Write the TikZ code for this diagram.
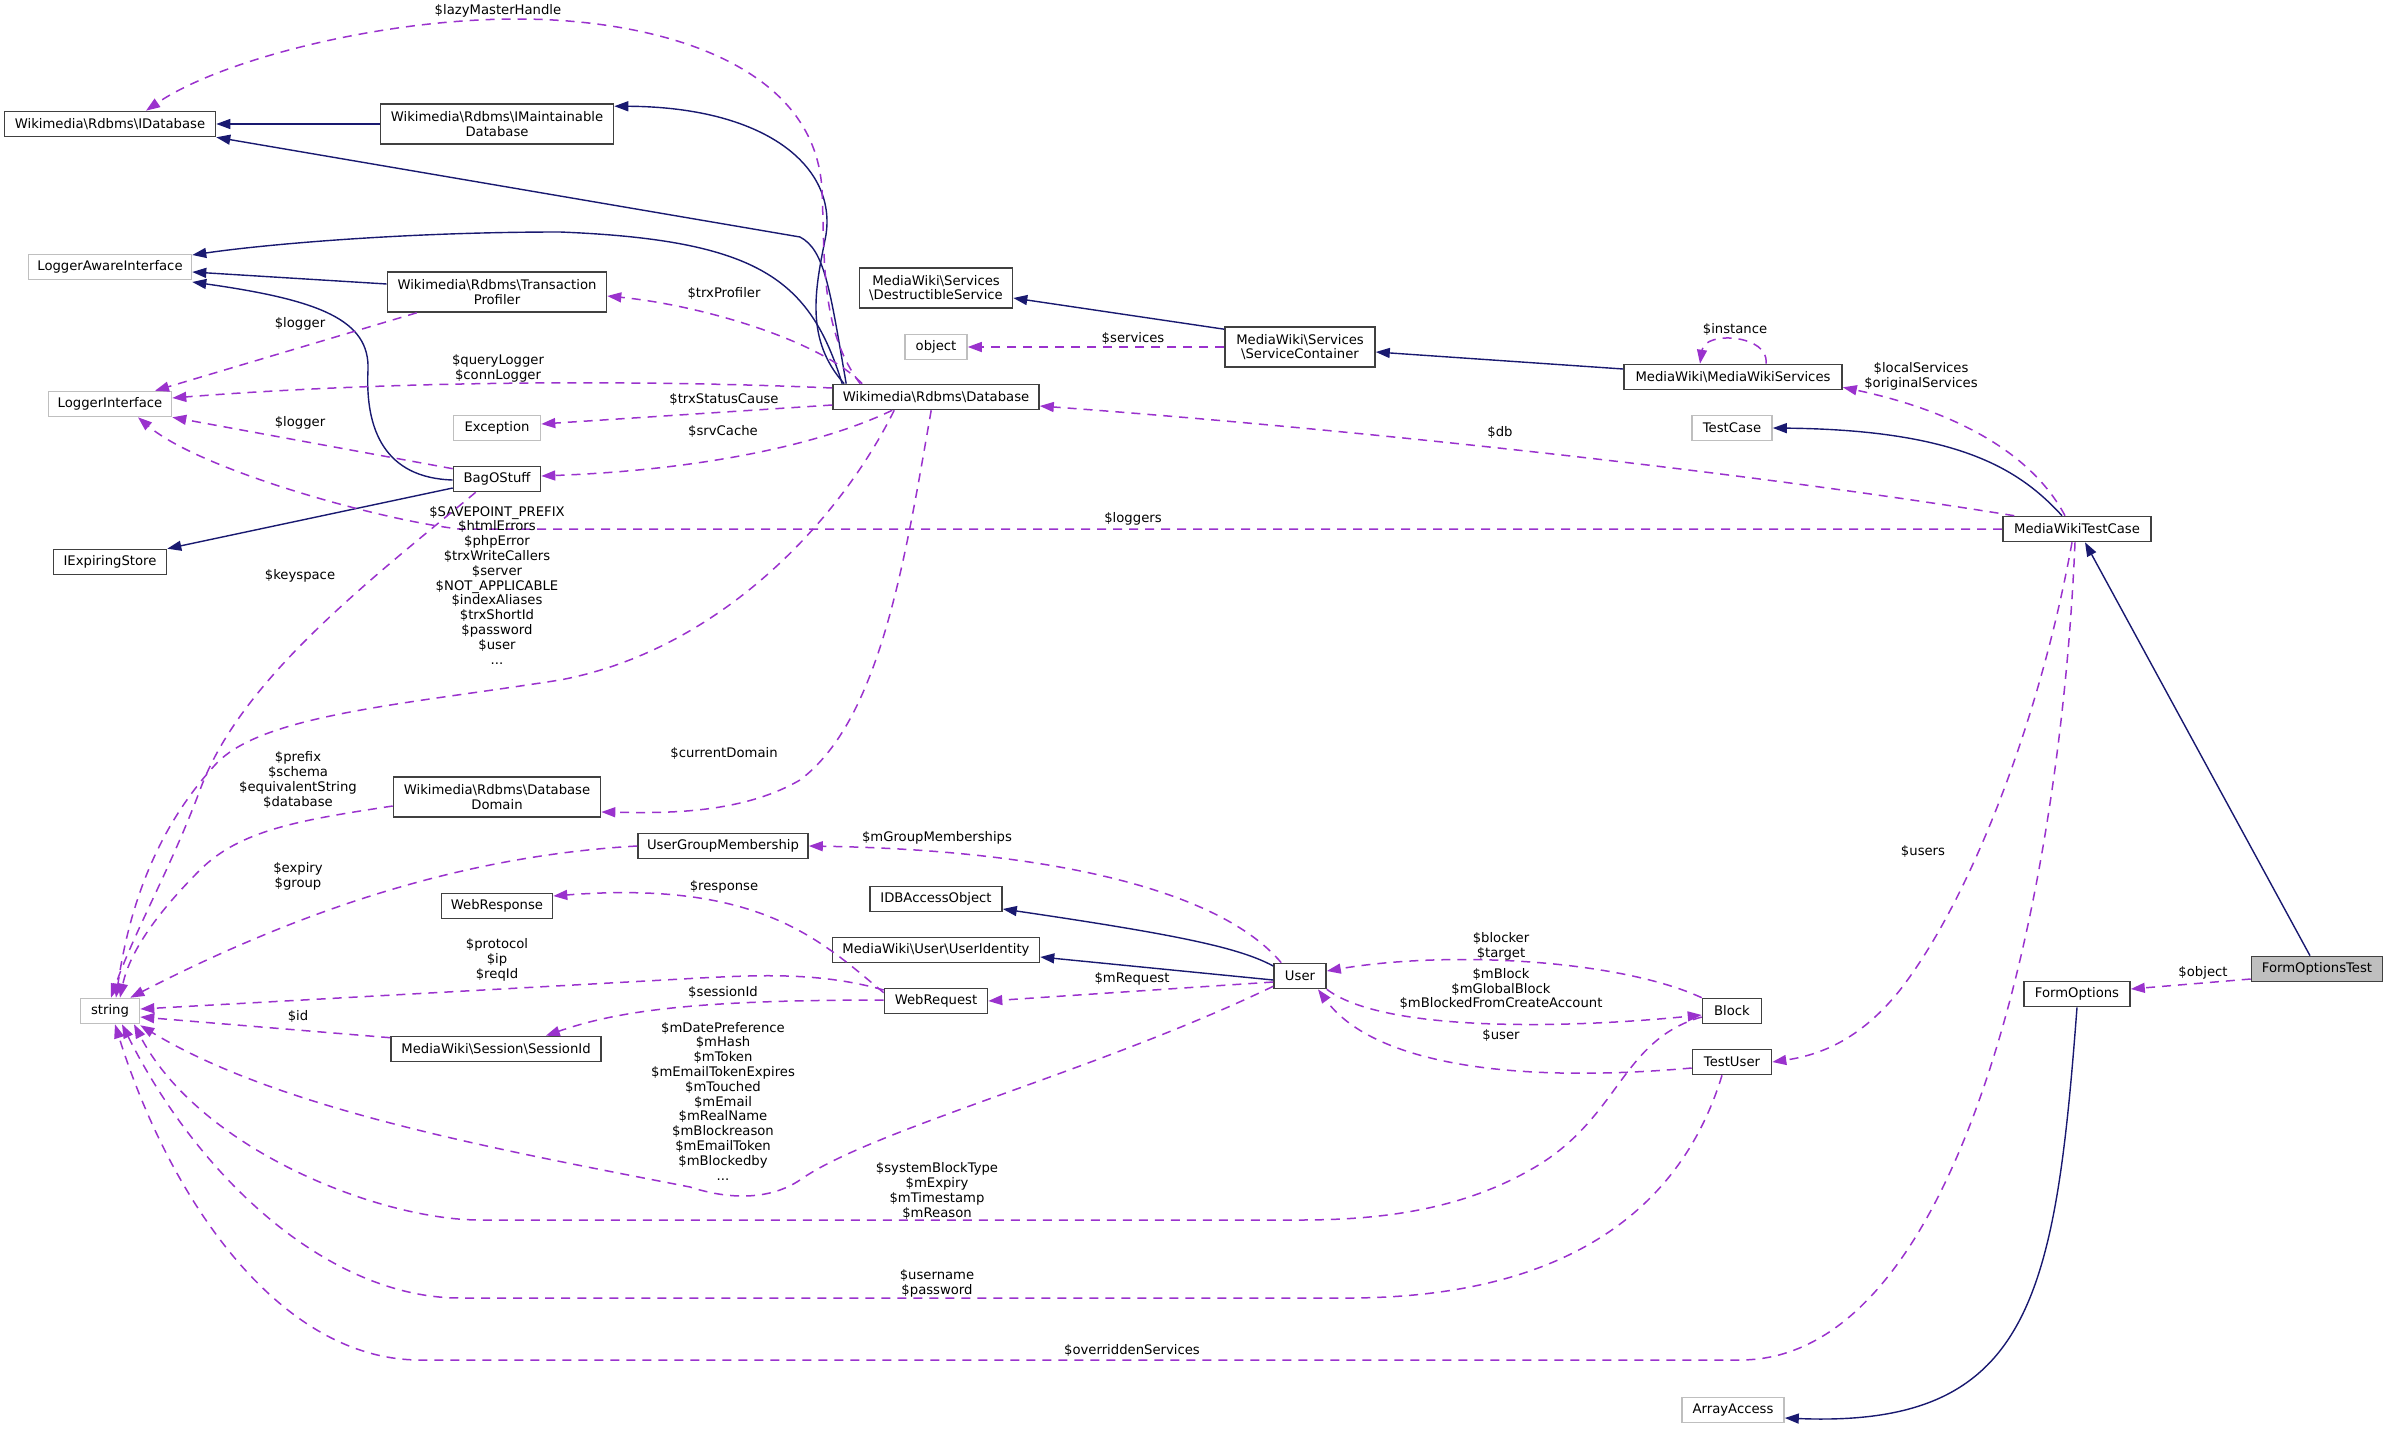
\documentclass[tikz,border=0pt]{standalone}
\usepackage{fontspec}
\setmainfont{DejaVu Sans}
\usetikzlibrary{arrows.meta,calc}
\definecolor{navy}{HTML}{191970}
\definecolor{orchid}{HTML}{9A32CD}
\definecolor{ugray}{HTML}{BFBFBF}
\definecolor{bord}{HTML}{404040}
\newcommand\fs{\fontsize{6.6}{7.4}\selectfont}
\newcommand\bsl{\textbackslash}
\tikzset{
  box/.style={draw=bord, line width=0.8pt, fill=white, inner sep=1.5pt, minimum height=12.5pt, align=center, font=\fs},
  ubox/.style={box, draw=ugray},
  lbl/.style={font=\fs, align=center, inner sep=0pt},
  inh/.style={draw=navy, line width=0.7pt, -{Triangle[length=7pt,width=5pt]}},
  use/.style={draw=orchid, line width=0.75pt, dash pattern=on 4.5pt off 3.5pt, -{Triangle[length=7pt,width=5pt]}}
}
\begin{document}
\begin{tikzpicture}[x=0.5pt,y=-0.5pt]
\useasboundingbox (0,0) rectangle (2388,1429);
% nodes
\node[box, minimum width=105.5pt] (idb) at (110,124) {Wikimedia\bsl Rdbms\bsl IDatabase};
\node[box, minimum width=116.5pt, minimum height=20pt] (imdb) at (497,124) {Wikimedia\bsl Rdbms\bsl IMaintainable\\Database};
\node[ubox, minimum width=81.5pt] (lai) at (110,267) {LoggerAwareInterface};
\node[box, minimum width=109.5pt, minimum height=20pt] (tp) at (497,292) {Wikimedia\bsl Rdbms\bsl Transaction\\Profiler};
\node[ubox, minimum width=61.5pt] (li) at (110,404) {LoggerInterface};
\node[ubox, minimum width=43.5pt] (exc) at (497,428) {Exception};
\node[box, minimum width=43.5pt] (bag) at (497,479) {BagOStuff};
\node[box, minimum width=56.5pt] (ies) at (110,562) {IExpiringStore};
\node[box, minimum width=103pt] (db) at (936,397) {Wikimedia\bsl Rdbms\bsl Database};
\node[box, minimum width=76.5pt, minimum height=20pt] (ds) at (936,288) {MediaWiki\bsl Services\\\bsl DestructibleService};
\node[ubox, minimum width=31pt] (obj) at (936,347) {object};
\node[box, minimum width=75pt, minimum height=20pt] (sc) at (1300,347) {MediaWiki\bsl Services\\\bsl ServiceContainer};
\node[box, minimum width=109pt] (mws) at (1733,377) {MediaWiki\bsl MediaWikiServices};
\node[ubox, minimum width=40pt] (tc) at (1732,428) {TestCase};
\node[box, minimum width=74pt] (mwtc) at (2077,529) {MediaWikiTestCase};
\node[box, minimum width=103.5pt, minimum height=20pt] (dd) at (497,797) {Wikimedia\bsl Rdbms\bsl Database\\Domain};
\node[box, minimum width=85pt] (ugm) at (723,846) {UserGroupMembership};
\node[box, minimum width=55.5pt] (wresp) at (497,906) {WebResponse};
\node[box, minimum width=66pt] (idbao) at (936,899) {IDBAccessObject};
\node[box, minimum width=103.5pt] (uid) at (936,950) {MediaWiki\bsl User\bsl UserIdentity};
\node[box, minimum width=26pt] (user) at (1300,976) {User};
\node[box, minimum width=51.5pt] (wreq) at (936,1001) {WebRequest};
\node[ubox, minimum width=29.5pt] (str) at (110,1011) {string};
\node[box, minimum width=105pt] (sid) at (496,1049) {MediaWiki\bsl Session\bsl SessionId};
\node[box, minimum width=29.5pt] (block) at (1732,1011) {Block};
\node[box, minimum width=39.5pt] (tu) at (1732,1062) {TestUser};
\node[box, minimum width=53pt] (fo) at (2077,994) {FormOptions};
\node[box, fill=ugray, minimum width=65.5pt] (fot) at (2317,969) {FormOptionsTest};
\node[ubox, minimum width=51pt] (aa) at (1733,1410) {ArrayAccess};
% inheritance
\draw[inh] (imdb.west) -- (idb.east);
\draw[inh] ($(db.north west)+(14,0)$) .. controls (830,290) and (825,250) .. (800,237) -- (idb.south east);
\draw[inh] ($(db.north west)+(12,0)$) .. controls (805,340) and (815,290) .. (825,240) .. controls (840,170) and (770,107) .. ($(imdb.north east)+(0,3)$);
\draw[inh] ($(db.north west)+(10,0)$) .. controls (810,280) and (760,240) .. (560,232) .. controls (400,232) and (260,245) .. ($(lai.east)+(0,-12)$);
\draw[inh] ($(tp.west)+(0,-8)$) -- ($(lai.east)+(0,5)$);
\draw[inh] ($(bag.west)+(0,1)$) .. controls (385,478) and (365,430) .. (368,370) .. controls (370,320) and (320,300) .. ($(lai.east)+(0,15)$);
\draw[inh] ($(bag.west)+(0,9)$) -- (ies.north east);
\draw[inh] ($(sc.north west)+(0,3)$) -- ($(ds.east)+(0,10)$);
\draw[inh] ($(mws.west)+(0,-8)$) -- ($(sc.east)+(0,5)$);
\draw[inh] ($(mwtc.north)+(-15,0)$) .. controls (2020,470) and (1960,430) .. (tc.east);
\draw[inh] ($(fot.north)+(-7,0)$) -- ($(mwtc.south)+(8,0)$);
\draw[inh] ($(user.west)+(0,4)$) -- ($(uid.east)+(0,7)$);
\draw[inh] ($(user.west)+(0,-10)$) .. controls (1240,948) and (1180,935) .. ($(idbao.east)+(0,10)$);
\draw[inh] (fo.south) .. controls (2055,1300) and (2030,1428) .. ($(aa.east)+(0,8)$);
% usage
\draw[use] ($(db.north west)+(28,0)$) .. controls (820,330) and (825,260) .. (822,190) .. controls (815,60) and (650,19) .. (517,19) .. controls (380,19) and (220,60) .. ($(idb.north)+(36,0)$);
\node[lbl] (l1) at (498,11) {\$lazyMasterHandle};
\draw[use] ($(db.north west)+(30,0)$) .. controls (820,340) and (700,305) .. ($(tp.east)+(0,4)$);
\node[lbl] (l2) at (724,293) {\$trxProfiler};
\draw[use] ($(db.west)+(0,-9)$) .. controls (650,380) and (400,380) .. ($(li.east)+(0,-6)$);
\node[lbl] (l3) at (498,368) {\$queryLogger\\\$connLogger};
\draw[use] ($(tp.south west)+(30,0)$) -- ($(li.north)+(45,0)$);
\node[lbl] (l4) at (300,324) {\$logger};
\draw[use] ($(db.west)+(0,8)$) -- ($(exc.east)+(0,-4)$);
\node[lbl] (l5) at (724,399) {\$trxStatusCause};
\draw[use] ($(db.south west)+(60,0)$) .. controls (820,445) and (700,470) .. ($(bag.east)+(0,-3)$);
\node[lbl] (l6) at (723,431) {\$srvCache};
\draw[use] ($(bag.north west)+(0,3)$) -- (li.south east);
\node[lbl] (l7) at (300,423) {\$logger};
\draw[use] (mwtc.west) -- (459,529) .. controls (380,520) and (200,470) .. ($(li.south)+(28,0)$);
\node[lbl] (l8) at (1133,519) {\$loggers};
\draw[use] (sc.west) -- (obj.east);
\node[lbl] (l9) at (1133,338) {\$services};
\draw[use] ($(mws.north)+(33,0)$) .. controls (1770,335) and (1705,330) .. ($(mws.north)+(-33,0)$);
\node[lbl] (l10) at (1735,329) {\$instance};
\draw[use] ($(mwtc.north)+(-12,0)$) .. controls (2030,450) and (1950,410) .. ($(mws.south east)+(0,-3)$);
\node[lbl] (l11) at (1921,376) {\$localServices\\\$originalServices};
\draw[use] ($(mwtc.north west)+(12,0)$) .. controls (1700,465) and (1300,425) .. ($(db.east)+(0,9)$);
\node[lbl] (l12) at (1500,432) {\$db};
\draw[use] ($(db.south west)+(62,0)$) .. controls (840,520) and (720,650) .. (560,680) .. controls (400,705) and (260,715) .. (215,765) .. controls (160,825) and (130,900) .. ($(str.north)+(6,0)$);
\node[lbl] (l13) at (497,585) {\$SAVEPOINT\_PREFIX\\\$htmlErrors\\\$phpError\\\$trxWriteCallers\\\$server\\\$NOT\_APPLICABLE\\\$indexAliases\\\$trxShortId\\\$password\\\$user\\...};
\draw[use] ($(bag.south west)+(23,0)$) .. controls (370,580) and (240,680) .. (200,790) .. controls (170,870) and (135,930) .. ($(str.north)+(1,0)$);
\node[lbl] (l14) at (300,576) {\$keyspace};
\draw[use] ($(db.south west)+(99,0)$) .. controls (905,560) and (880,720) .. (800,780) .. controls (740,815) and (660,813) .. ($(dd.east)+(0,15)$);
\node[lbl] (l32) at (724,753) {\$currentDomain};
\draw[use] ($(dd.west)+(0,9)$) .. controls (300,820) and (240,830) .. (200,870) .. controls (160,910) and (130,950) .. ($(str.north)+(10,0)$);
\node[lbl] (l15) at (298,780) {\$prefix\\\$schema\\\$equivalentString\\\$database};
\draw[use] (ugm.west) .. controls (480,855) and (320,900) .. ($(str.north east)+(-10,0)$);
\node[lbl] (l16) at (298,876) {\$expiry\\\$group};
\draw[use] ($(user.north west)+(8,0)$) .. controls (1220,890) and (1050,850) .. (ugm.east);
\node[lbl] (l17) at (937,838) {\$mGroupMemberships};
\draw[use] ($(wreq.north west)+(0,5)$) .. controls (820,940) and (760,880) .. ($(wresp.east)+(0,-10)$);
\node[lbl] (l18) at (724,887) {\$response};
\draw[use] ($(wreq.west)+(0,-11)$) .. controls (820,972) and (760,975) .. (700,978) -- ($(str.east)+(0,-2)$);
\node[lbl] (l19) at (497,960) {\$protocol\\\$ip\\\$reqId};
\draw[use] ($(user.west)+(0,6)$) -- (wreq.east);
\node[lbl] (l20) at (1132,979) {\$mRequest};
\draw[use] ($(wreq.west)+(0,-1)$) .. controls (700,1000) and (620,1010) .. ($(sid.north east)+(-56,0)$);
\node[lbl] (l21) at (723,992) {\$sessionId};
\draw[use] ($(sid.north west)+(0,2)$) -- ($(str.east)+(0,6)$);
\node[lbl] (l22) at (298,1016) {\$id};
\draw[use] ($(user.south west)+(0,-3)$) .. controls (1100,1070) and (870,1130) .. (800,1180) .. controls (770,1200) and (730,1200) .. (690,1187) .. controls (500,1150) and (280,1110) .. ($(str.south east)+(0,1)$);
\node[lbl] (l23) at (723,1101) {\$mDatePreference\\\$mHash\\\$mToken\\\$mEmailTokenExpires\\\$mTouched\\\$mEmail\\\$mRealName\\\$mBlockreason\\\$mEmailToken\\\$mBlockedby\\...};
\draw[use] (block.north west) .. controls (1620,960) and (1450,950) .. ($(user.east)+(0,-5)$);
\node[lbl] (l24) at (1501,946) {\$blocker\\\$target};
\draw[use] (user.south east) .. controls (1380,1030) and (1550,1030) .. ($(block.west)+(0,4)$);
\node[lbl] (l25) at (1501,989) {\$mBlock\\\$mGlobalBlock\\\$mBlockedFromCreateAccount};
\draw[use] ($(tu.west)+(0,6)$) .. controls (1500,1085) and (1370,1060) .. ($(user.south)+(18,0)$);
\node[lbl] (l26) at (1501,1035) {\$user};
\draw[use] ($(mwtc.south)+(-5,0)$) .. controls (2040,720) and (1970,900) .. (1900,990) .. controls (1860,1040) and (1820,1055) .. (tu.east);
\node[lbl] (l27) at (1923,851) {\$users};
\draw[use] ($(block.west)+(0,6)$) .. controls (1620,1040) and (1620,1120) .. (1530,1170) .. controls (1460,1210) and (1380,1220) .. (1300,1220) -- (480,1220) .. controls (380,1220) and (200,1150) .. ($(str.south)+(24,0)$);
\node[lbl] (l28) at (937,1191) {\$systemBlockType\\\$mExpiry\\\$mTimestamp\\\$mReason};
\draw[use] ($(tu.south)+(-10,0)$) .. controls (1690,1180) and (1600,1300) .. (1340,1298) -- (460,1298) .. controls (330,1298) and (200,1180) .. ($(str.south)+(12,0)$);
\node[lbl] (l29) at (937,1283) {\$username\\\$password};
\draw[use] ($(mwtc.south)+(-2,0)$) .. controls (2060,900) and (1960,1360) .. (1740,1360) -- (420,1360) .. controls (280,1360) and (170,1200) .. ($(str.south)+(5,0)$);
\node[lbl] (l30) at (1132,1350) {\$overriddenServices};
\draw[use] ($(fot.west)+(0,10)$) -- ($(fo.east)+(0,-5)$);
\node[lbl] (l31) at (2203,973) {\$object};
\end{tikzpicture}
\end{document}
